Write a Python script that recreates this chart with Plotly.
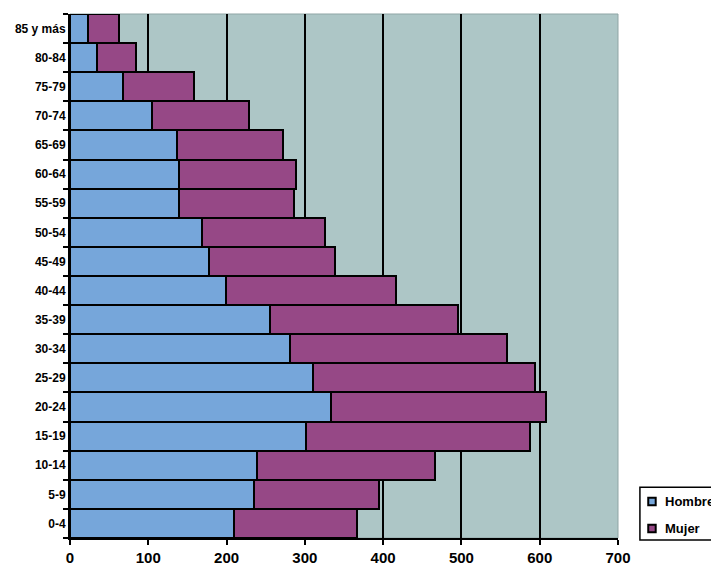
import plotly.graph_objects as go

categories = ["0-4", "5-9", "10-14", "15-19", "20-24", "25-29", "30-34", "35-39",
              "40-44", "45-49", "50-54", "55-59", "60-64", "65-69", "70-74",
              "75-79", "80-84", "85 y más"]
hombre = [209, 235, 239, 302, 333, 310, 281, 255, 199, 178, 168, 139, 139, 137, 105, 68, 34, 23]
mujer = [158, 160, 227, 285, 275, 284, 277, 240, 217, 161, 158, 147, 150, 135, 124, 90, 50, 40]
x_ticks = [0, 100, 200, 300, 400, 500, 600, 700]
series_names = ["Hombre", "Mujer"]

FONT = "Arial, Liberation Sans, sans-serif"
C_H = "#76a6da"
C_M = "#964886"
colors = [C_H, C_M]

fig = go.Figure()
for nm, vals, col in zip(series_names, [hombre, mujer], colors):
    fig.add_trace(go.Bar(
        y=categories, x=vals, name=nm, orientation="h",
        marker=dict(color=col, line=dict(color="black", width=2)),
        showlegend=False,
    ))

# custom legend (box, small squares, labels) placed right of the plot
shapes = [
    dict(type="rect", xref="paper", yref="paper", x0=0, x1=1, y0=0, y1=1,
         line=dict(color="#8fa5a5", width=1), layer="below"),
    dict(type="rect", xref="paper", yref="paper", x0=1.040, x1=1.25, y0=-0.004, y1=0.097,
         line=dict(color="black", width=1.5), fillcolor="white"),
]
annotations = []
leg_y = [0.0697, 0.0181]
for nm, col, yc in zip(series_names, colors, leg_y):
    shapes.append(dict(type="rect", xref="paper", yref="paper",
                       x0=1.062 - 0.0068, x1=1.062 + 0.0068,
                       y0=yc - 0.0072, y1=yc + 0.0072,
                       line=dict(color="black", width=2), fillcolor=col))
    annotations.append(dict(text=nm, xref="paper", yref="paper", x=1.0815, y=yc,
                            xanchor="left", yanchor="middle", showarrow=False,
                            font=dict(family=FONT, size=13, weight="bold", color="black")))

fig.update_layout(
    width=711, height=557,
    barmode="stack", bargap=0,
    paper_bgcolor="white", plot_bgcolor="#adc6c6",
    margin=dict(l=62, r=101, t=6, b=27, autoexpand=False),
    font=dict(family=FONT, color="black"),
    showlegend=False,
    shapes=shapes,
    annotations=annotations,
)
fig.update_xaxes(
    range=[0, 700], tickvals=x_ticks, ticktext=[str(v) for v in x_ticks],
    showgrid=True, gridcolor="black", gridwidth=2,
    showline=True, linecolor="black", linewidth=2,
    ticks="outside", ticklen=5, tickcolor="black", tickwidth=2,
    tickfont=dict(family=FONT, size=15, weight="bold"),
    zeroline=False, fixedrange=True, automargin=False,
)
fig.update_yaxes(
    categoryorder="array", categoryarray=categories,
    showline=True, linecolor="black", linewidth=2,
    ticks="outside", tickson="boundaries", ticklen=5, tickcolor="black", tickwidth=2,
    tickfont=dict(family=FONT, size=12, weight="bold"),
    showgrid=False, fixedrange=True, automargin=False,
)

fig.write_html("out.html")
